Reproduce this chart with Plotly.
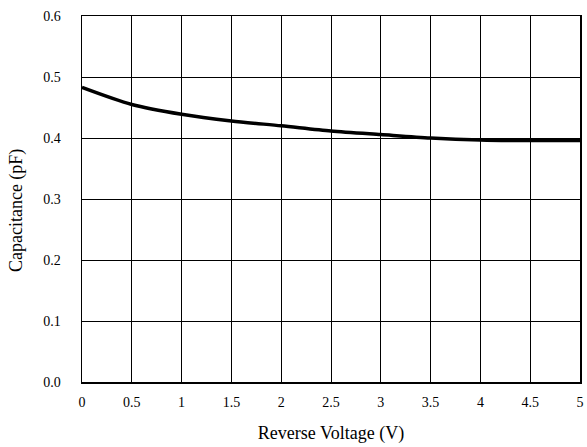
import plotly.graph_objects as go

voltage = [0, 0.5, 1, 1.5, 2, 2.5, 3, 3.5, 4, 4.5, 5]
capacitance = [0.483, 0.455, 0.439, 0.428, 0.420, 0.4115, 0.4056, 0.400, 0.3967, 0.3957, 0.396]

x_ticks = [0, 0.5, 1, 1.5, 2, 2.5, 3, 3.5, 4, 4.5, 5]
x_labels = ["0", "0.5", "1", "1.5", "2", "2.5", "3", "3.5", "4", "4.5", "5"]
y_ticks = [0.0, 0.1, 0.2, 0.3, 0.4, 0.5, 0.6]
y_labels = ["0.0", "0.1", "0.2", "0.3", "0.4", "0.5", "0.6"]

x_title = "Reverse Voltage (V)"
y_title = "Capacitance (pF)"

font = "Times New Roman"

fig = go.Figure()
fig.add_trace(go.Scatter(
    x=voltage, y=capacitance, mode="lines",
    line=dict(color="black", width=3.5, shape="spline", smoothing=0.8),
    showlegend=False, hoverinfo="skip",
))

fig.update_layout(
    width=587, height=447,
    margin=dict(l=82, r=7, t=16, b=65, autoexpand=False),
    paper_bgcolor="white", plot_bgcolor="white",
    font=dict(family=font, size=14, color="black"),
    xaxis=dict(
        range=[0, 5], tickvals=x_ticks, ticktext=x_labels,
        showgrid=True, gridcolor="black", gridwidth=1,
        showline=True, linecolor="black", linewidth=1.5, mirror=True,
        zeroline=False, ticks="", ticklabelstandoff=7, automargin=False,
        title=dict(text=x_title, font=dict(family=font, size=18), standoff=17),
        fixedrange=True,
    ),
    yaxis=dict(
        range=[0, 0.6], tickvals=y_ticks, ticktext=y_labels,
        showgrid=True, gridcolor="black", gridwidth=1,
        showline=True, linecolor="black", linewidth=1.5, mirror=True,
        zeroline=False, ticks="", ticklabelstandoff=17, automargin=False,
        fixedrange=True,
    ),
    annotations=[dict(
        text=y_title, textangle=-90, showarrow=False,
        xref="paper", yref="paper", x=0, y=0.467,
        xanchor="center", yanchor="middle", xshift=-66,
        font=dict(family=font, size=18, color="black"),
    )],
)

fig.write_html(
    "out.html",
    config={"displayModeBar": False, "staticPlot": True},
    post_script="document.body.style.margin='0';document.body.style.overflow='hidden';",
)
